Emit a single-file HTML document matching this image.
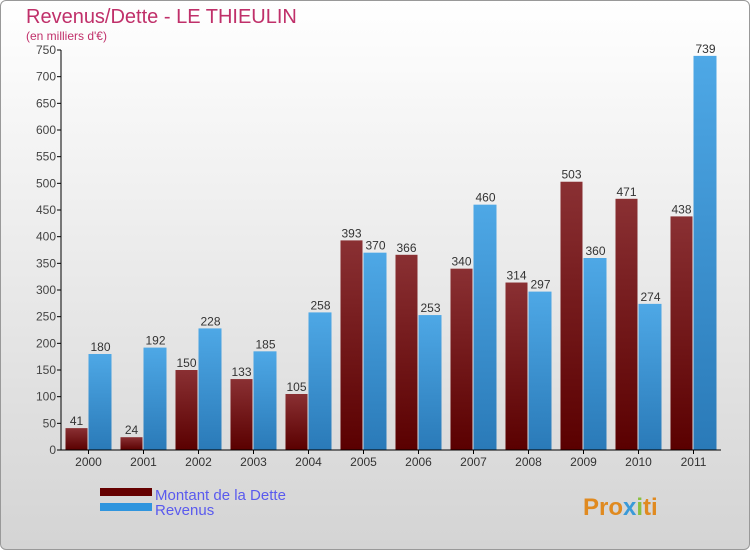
<!DOCTYPE html>
<html><head><meta charset="utf-8"><style>
body{margin:0;width:750px;height:550px;overflow:hidden;font-family:"Liberation Sans",sans-serif}
#c{position:absolute;left:0;top:0;width:748px;height:548px;border:1px solid #999;border-radius:6px;background:linear-gradient(#ffffff,#d4d4d4)}
</style></head><body>
<div id="c"></div>
<svg id="s" width="750" height="550" style="position:absolute;left:0;top:0">
<defs>
<linearGradient id="gd" x1="0" y1="0" x2="0" y2="1"><stop offset="0" stop-color="#8a3033"/><stop offset="1" stop-color="#5a0000"/></linearGradient>
<linearGradient id="gr" x1="0" y1="0" x2="0" y2="1"><stop offset="0" stop-color="#4ea8e6"/><stop offset="1" stop-color="#2a7ab8"/></linearGradient>
</defs>
<text x="26" y="23" font-size="20" fill="#c0306a">Revenus/Dette - LE THIEULIN</text>
<text x="26" y="40" font-size="12" fill="#c0306a">(en milliers d'€)</text>
<g id="g"></g>
<rect x="100" y="488" width="52" height="8" fill="#650000"/>
<rect x="100" y="503" width="52" height="8" fill="#2f95de"/>
<text x="155" y="500" font-size="15" fill="#5a5aee">Montant de la Dette</text>
<text x="155" y="515" font-size="15" fill="#5a5aee">Revenus</text>
<text x="583" y="515" font-size="24" font-weight="bold" fill="#e08a20">Pro<tspan fill="#3a9ad8">x</tspan><tspan fill="#8ac040">i</tspan>ti</text>
</svg>
<script>
const years=["2000","2001","2002","2003","2004","2005","2006","2007","2008","2009","2010","2011"];
const dette=[41,24,150,133,105,393,366,340,314,503,471,438];
const revenus=[180,192,228,185,258,370,253,460,297,360,274,739];
const ticks=[0,50,100,150,200,250,300,350,400,450,500,550,600,650,700,750];
const NS="http://www.w3.org/2000/svg";
const g=document.getElementById('g');
const x0=61,slot=55,y0=450,ppu=400/750;
const Y=v=>y0-v*ppu;
function mk(t,a,p){const e=document.createElementNS(NS,t);for(const k in a)e.setAttribute(k,a[k]);(p||g).appendChild(e);return e;}
ticks.forEach(t=>{
 const l=mk('line',{x1:x0-4,x2:x0,y1:Y(t),y2:Y(t),stroke:'#000'});
 
 
 const tx=mk('text',{x:x0-5,y:Y(t)+4,'font-size':12,fill:'#444','text-anchor':'end'});tx.textContent=t;
 
 
});
years.forEach((yr,i)=>{
 const c=x0+slot*i+slot/2;
 const d=mk('rect',{x:c-23,y:Y(dette[i]),width:22,height:dette[i]*ppu,fill:'url(#gd)'});
 
 
 const r=mk('rect',{x:c,y:Y(revenus[i]),width:23,height:revenus[i]*ppu,fill:'url(#gr)'});
 
 
 const t1=mk('text',{x:c-12,y:Y(dette[i])-3,'font-size':12,fill:'#333','text-anchor':'middle'});t1.textContent=dette[i];
 
 
 const t2=mk('text',{x:c+12,y:Y(revenus[i])-3,'font-size':12,fill:'#333','text-anchor':'middle'});t2.textContent=revenus[i];
 
 
 const tk=mk('line',{x1:c,x2:c,y1:y0,y2:y0+4,stroke:'#000'});
 
 
 const xl=mk('text',{x:c,y:y0+16,'font-size':12,fill:'#333','text-anchor':'middle'});xl.textContent=yr;
 
 
});
const ax=mk('line',{x1:x0,x2:x0,y1:Y(750),y2:y0,stroke:'#000'});


const bx=mk('line',{x1:x0,x2:x0+slot*12,y1:y0,y2:y0,stroke:'#000'});


</script>
</body></html>
